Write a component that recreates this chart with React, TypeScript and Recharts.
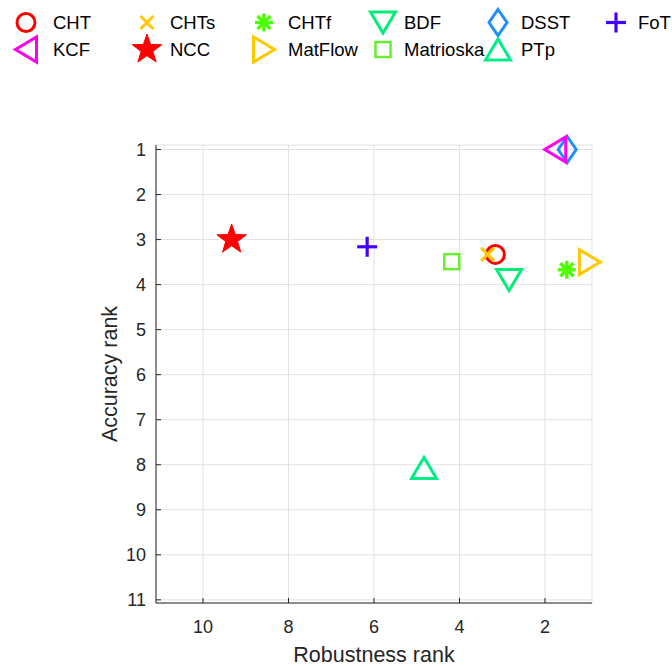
import React from 'react'
import { ScatterChart, Scatter, XAxis, YAxis, CartesianGrid } from 'recharts'

// plot order (matlab legend fills row by row)
const trackers = ['CHT', 'CHTs', 'CHTf', 'BDF', 'DSST', 'FoT', 'KCF', 'NCC', 'MatFlow', 'Matrioska', 'PTp']
const robustness = [3.16, 3.34, 1.49, 2.84, 1.48, 6.16, 1.76, 9.33, 0.95, 4.18, 4.83]
const accuracy = [3.33, 3.33, 3.67, 3.9, 1.0, 3.16, 1.0, 3.0, 3.5, 3.49, 8.07]
const markers = ['o', 'x', '*', 'v', 'd', '+', '<', 'p', '>', 's', '^']
const colors = ['#ff0000', '#ffc800', '#4cff00', '#00ee77', '#1f8fff', '#4400ff', '#ff00ee', '#ff0000', '#ffc800', '#66ee33', '#00ee88']

const xTicks = [2, 4, 6, 8, 10]
const yTicks = [1, 2, 3, 4, 5, 6, 7, 8, 9, 10, 11]

const AXIS = '#262626'
const FONT = '"Liberation Sans", Arial, sans-serif'

function Marker({ kind, cx, cy, color }: { kind: string; cx: number; cy: number; color: string }) {
  const sw = 3
  const common = { fill: 'none', stroke: color, strokeWidth: sw, strokeLinejoin: 'miter' as const }
  const b = 12.5
  const l = 10.5
  switch (kind) {
    case 'o':
      return <circle cx={cx} cy={cy} r={9} {...common} />
    case 'x':
      return (
        <g stroke={color} strokeWidth={sw}>
          <line x1={cx - 6.5} y1={cy - 6.5} x2={cx + 6.5} y2={cy + 6.5} />
          <line x1={cx - 6.5} y1={cy + 6.5} x2={cx + 6.5} y2={cy - 6.5} />
        </g>
      )
    case '+':
      return (
        <g stroke={color} strokeWidth={3.2}>
          <line x1={cx - 10} y1={cy} x2={cx + 10} y2={cy} />
          <line x1={cx} y1={cy - 10} x2={cx} y2={cy + 10} />
        </g>
      )
    case '*':
      return (
        <g stroke={color} strokeWidth={3.4}>
          <line x1={cx - 9} y1={cy} x2={cx + 9} y2={cy} />
          <line x1={cx} y1={cy - 9} x2={cx} y2={cy + 9} />
          <line x1={cx - 6.5} y1={cy - 6.5} x2={cx + 6.5} y2={cy + 6.5} />
          <line x1={cx - 6.5} y1={cy + 6.5} x2={cx + 6.5} y2={cy - 6.5} />
        </g>
      )
    case 's':
      return <rect x={cx - 7.5} y={cy - 7.5} width={15} height={15} {...common} strokeWidth={2.5} />
    case 'd':
      return <polygon points={`${cx},${cy - 13} ${cx + 9},${cy} ${cx},${cy + 13} ${cx - 9},${cy}`} {...common} />
    case 'v':
      return <polygon points={`${cx - b},${cy - l} ${cx + b},${cy - l} ${cx},${cy + l}`} {...common} />
    case '^':
      return <polygon points={`${cx - b},${cy + l} ${cx + b},${cy + l} ${cx},${cy - l}`} {...common} />
    case '<':
      return <polygon points={`${cx + l},${cy - b} ${cx + l},${cy + b} ${cx - l},${cy}`} {...common} />
    case '>':
      return <polygon points={`${cx - l},${cy - b} ${cx - l},${cy + b} ${cx + l},${cy}`} {...common} />
    case 'p': {
      const R = 15.5
      const r = R * 0.4
      const pts: string[] = []
      for (let i = 0; i < 10; i++) {
        const a = -Math.PI / 2 + (i * Math.PI) / 5
        const rad = i % 2 === 0 ? R : r
        pts.push(`${cx + rad * Math.cos(a)},${cy + rad * Math.sin(a)}`)
      }
      return <polygon points={pts.join(' ')} fill={color} stroke={color} strokeWidth={1} />
    }
    default:
      return null
  }
}

const legendMarkerX = [26, 147, 264, 383, 498, 616]
const legendTextX = [53, 170, 288, 404, 521, 638]
const legendRowY = [22.5, 49.5]

function TopLegend() {
  return (
    <svg width={672} height={70} style={{ position: 'absolute', left: 0, top: 0 }}>
      {trackers.map((name, i) => {
        const col = i % 6
        const row = Math.floor(i / 6)
        const y = legendRowY[row]
        return (
          <g key={name}>
            <Marker kind={markers[i]} cx={legendMarkerX[col]} cy={y} color={colors[i]} />
            <text x={legendTextX[col]} y={y} dominantBaseline='central' fontSize={18.5} fill='#000' fontFamily={FONT}>
              {name}
            </text>
          </g>
        )
      })}
    </svg>
  )
}

export default function App() {
  return (
    <div style={{ position: 'relative', width: 672, height: 666, fontFamily: FONT, background: '#fff' }}>
      <style>{'body{margin:0}'}</style>
      <ScatterChart width={672} height={666} margin={{ top: 145, right: 80, bottom: 0, left: 96 }}>
        <CartesianGrid stroke='#e2e2e2' strokeWidth={1} />
        <XAxis
          type='number'
          dataKey='x'
          domain={[0.9, 11.1]}
          reversed
          ticks={xTicks}
          height={63}
          stroke={AXIS}
          tickSize={-5}
          tickMargin={22}
          tick={{ fontSize: 18, fill: AXIS }}
          label={{
            content: (p: any) => {
              const vb = p.viewBox
              return (
                <text x={vb.x + vb.width / 2} y={vb.y + 52} textAnchor='middle' dominantBaseline='central' fontSize={21.5} fill={AXIS}>
                  Robustness rank
                </text>
              )
            }
          }}
        />
        <XAxis
          xAxisId='top'
          orientation='top'
          type='number'
          domain={[0.9, 11.1]}
          reversed
          ticks={xTicks}
          height={0}
          stroke={AXIS}
          tickSize={-5}
          tick={false}
        />
        <YAxis
          type='number'
          dataKey='y'
          domain={[0.9, 11.07]}
          reversed
          ticks={yTicks}
          width={60}
          stroke={AXIS}
          tickSize={-5}
          tickMargin={15}
          tick={{ fontSize: 18, fill: AXIS }}
          label={{
            content: (p: any) => {
              const vb = p.viewBox
              const cx = vb.x + 14
              const cy = vb.y + vb.height / 2
              return (
                <text x={cx} y={cy} transform={`rotate(-90 ${cx} ${cy})`} textAnchor='middle' dominantBaseline='central' fontSize={21.5} fill={AXIS}>
                  Accuracy rank
                </text>
              )
            }
          }}
        />
        <YAxis
          yAxisId='right'
          orientation='right'
          type='number'
          domain={[0.9, 11.07]}
          reversed
          ticks={yTicks}
          width={0}
          stroke={AXIS}
          tickSize={-5}
          tick={false}
        />
        {trackers.map((name, i) => (
          <Scatter
            key={name}
            name={name}
            data={[{ x: robustness[i], y: accuracy[i] }]}
            isAnimationActive={false}
            shape={(p: any) => <Marker kind={markers[i]} cx={p.cx} cy={p.cy} color={colors[i]} />}
          />
        ))}
      </ScatterChart>
      <TopLegend />
    </div>
  )
}
